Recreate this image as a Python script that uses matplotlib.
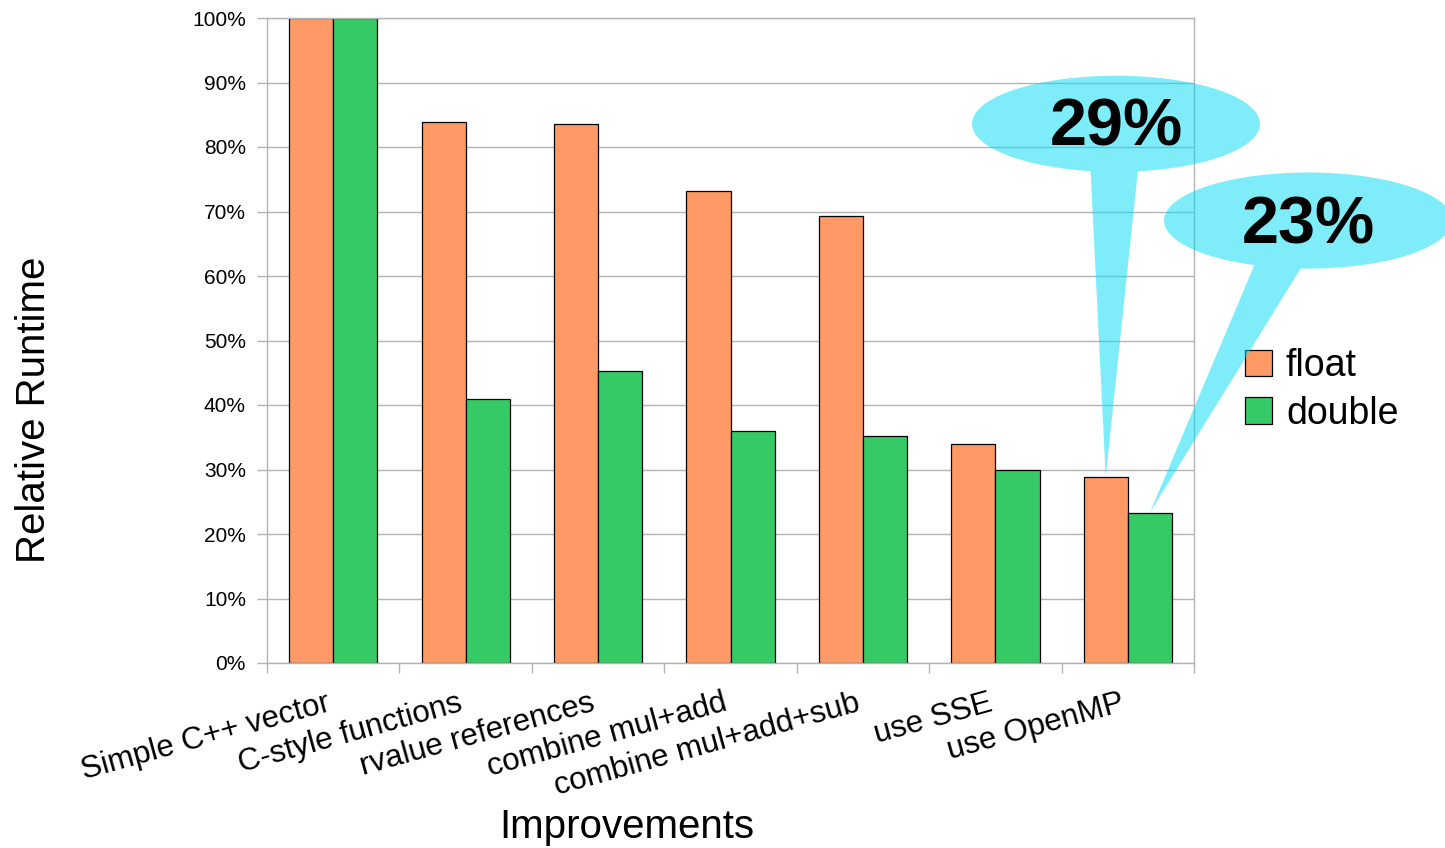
import numpy as np
import matplotlib.pyplot as plt
from matplotlib.path import Path
from matplotlib.patches import PathPatch

# Datos
pasos = ["Simple C++ vector", "C-style functions", "rvalue references",
         "combine mul+add", "combine mul+add+sub", "use SSE", "use OpenMP"]
t_float = [100, 83.8, 83.6, 73.2, 69.3, 34.0, 28.8]
t_double = [100, 40.9, 45.3, 36.0, 35.2, 29.9, 23.3]
y_ticks = list(range(0, 101, 10))

plt.rcParams['font.family'] = ['Liberation Sans', 'DejaVu Sans']

fig = plt.figure(figsize=(14.45, 8.48), dpi=100)
ax = fig.add_axes([267 / 1445, 1 - 663 / 848, 927 / 1445, 645 / 848])

x = np.arange(len(pasos))
w = 1 / 3
ax.bar(x - w / 2, t_float, w, color='#ff9966', edgecolor='black', linewidth=0.9, label='float')
ax.bar(x + w / 2, t_double, w, color='#36ca66', edgecolor='black', linewidth=0.9, label='double')

ax.set_xlim(-0.5, len(pasos) - 0.5)
ax.set_ylim(0, 100)
ax.set_yticks(y_ticks)
ax.set_yticklabels([f"{v}%" for v in y_ticks], fontsize=15)
ax.set_xticks(x)
ax.set_xticklabels(pasos, fontsize=22.5, rotation=15.5, ha='right', va='top')
# marcas del eje x entre grupos
ax.set_xticks(np.arange(len(pasos) + 1) - 0.5, minor=True)
ax.tick_params(axis='x', which='major', length=0, pad=18)
ax.tick_params(axis='x', which='minor', length=7.2, color='#b3b3b3', width=1)
ax.tick_params(axis='y', length=7.2, color='#b3b3b3', width=1, pad=8)

ax.grid(axis='y', color='#b3b3b3', linewidth=1)
ax.set_axisbelow(True)
for s in ax.spines.values():
    s.set_color('#b3b3b3')
    s.set_linewidth(1)

fig.text(34 / 1445, 1 - 410 / 848, "Relative Runtime", rotation=90,
         ha='center', va='center', fontsize=29)
fig.text(627 / 1445, 1 - 838 / 848, "Improvements", ha='center', va='baseline', fontsize=29)

ax.legend(loc='upper left', bbox_to_anchor=(1245 / 1445, 1 - 348 / 848),
          bbox_transform=fig.transFigure, frameon=False, fontsize=27,
          handlelength=0.72, handleheight=0.72, handletextpad=0.37,
          labelspacing=0.31, borderpad=0, borderaxespad=0)


# Globo con cola: elipse + triangulo en un solo path (mismo sentido, se rellena una vez)
def globo(cx, cy, ew, eh, x1, x2, ytop, tip):
    t = np.linspace(0, 2 * np.pi, 120)
    elipse = np.column_stack([cx + ew / 2 * np.cos(t), cy + eh / 2 * np.sin(t)])
    cola = np.array([[x1, ytop], tip, [x2, ytop], [x1, ytop]])
    verts = np.vstack([elipse, cola])
    codes = ([Path.MOVETO] + [Path.LINETO] * (len(elipse) - 2) + [Path.CLOSEPOLY]
             + [Path.MOVETO, Path.LINETO, Path.LINETO, Path.CLOSEPOLY])
    p = PathPatch(Path(verts, codes), facecolor='#00dcf5', edgecolor='none',
                  alpha=0.5, zorder=10, clip_on=False)
    ax.add_patch(p)


i = len(pasos) - 1
globo(5.911, 83.6, 2.175, 14.9, 5.715, 6.085, 78.0, (x[i] - w / 2, t_float[i]))
globo(7.361, 68.6, 2.175, 14.9, 6.983, 7.361, 63.0, (x[i] + w / 2, t_double[i]))
ax.text(5.911, 82.9, f"{round(t_float[i])}%", ha='center', va='center',
        fontsize=48, fontweight='bold', zorder=11, clip_on=False)
ax.text(7.361, 67.7, f"{round(t_double[i])}%", ha='center', va='center',
        fontsize=48, fontweight='bold', zorder=11, clip_on=False)

fig.savefig("out.png", dpi=100)
